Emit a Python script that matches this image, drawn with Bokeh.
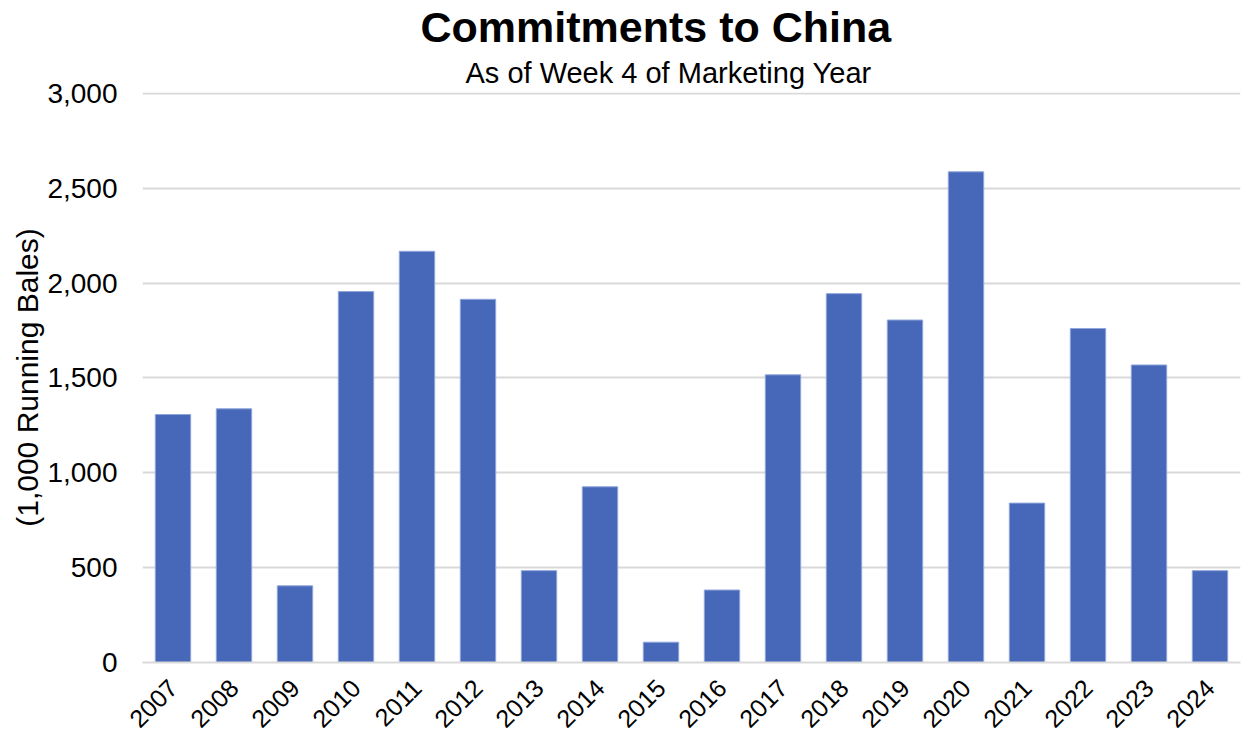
import math
from bokeh.plotting import figure
from bokeh.models import Title, FixedTicker, NumeralTickFormatter, ColumnDataSource, Range1d
from bokeh.embed import file_html
from bokeh.resources import INLINE

years = ["2007", "2008", "2009", "2010", "2011", "2012", "2013", "2014", "2015",
         "2016", "2017", "2018", "2019", "2020", "2021", "2022", "2023", "2024"]
commitments = [1307, 1337, 404, 1955, 2167, 1914, 484, 926, 107,
               382, 1516, 1944, 1805, 2586, 840, 1760, 1568, 484]
y_ticks = [0, 500, 1000, 1500, 2000, 2500, 3000]

title_text = "Commitments to China"
subtitle_text = "As of Week 4 of Marketing Year"
y_label = "(1,000 Running Bales)"

FONT = "Liberation Sans"
BAR = "#4768B8"
GRID = "#D9D9D9"

src = ColumnDataSource(dict(year=years, value=commitments))

p = figure(width=1250, height=740, x_range=years, y_range=Range1d(0, 3004),
           output_backend="svg", toolbar_location=None, title=None,
           min_border_left=142, min_border_right=10, min_border_bottom=78,
           min_border_top=92)

p.vbar(x="year", top="value", width=0.58, source=src,
       fill_color=BAR, line_color="#8FA5DC", line_width=1)

sub = Title(text=subtitle_text, align="left", text_font=FONT,
            text_font_size="29px", text_font_style="normal", text_color="#000000",
            text_line_height=0.85, offset=323, standoff=8)
main = Title(text=title_text, align="left", text_font=FONT,
             text_font_size="43px", text_font_style="bold", text_color="#000000",
             offset=278, standoff=0)
p.add_layout(sub, "above")
p.add_layout(main, "above")

p.outline_line_color = None
p.background_fill_color = "white"
p.border_fill_color = "white"

p.xgrid.grid_line_color = None
p.ygrid.grid_line_color = GRID
p.ygrid.grid_line_width = 2
p.ygrid.ticker = FixedTicker(ticks=y_ticks)

p.yaxis.ticker = FixedTicker(ticks=y_ticks)
p.yaxis.formatter = NumeralTickFormatter(format="0,0")
p.yaxis.axis_line_color = None
p.yaxis.major_tick_line_color = None
p.yaxis.minor_tick_line_color = None
p.yaxis.major_tick_in = 0
p.yaxis.major_tick_out = 0
p.yaxis.major_label_standoff = 25
p.yaxis.major_label_text_font = FONT
p.yaxis.major_label_text_font_size = "28px"
p.yaxis.major_label_text_color = "#000000"
p.yaxis.axis_label = y_label
p.yaxis.axis_label_text_font = FONT
p.yaxis.axis_label_text_font_size = "30px"
p.yaxis.axis_label_text_font_style = "normal"
p.yaxis.axis_label_text_color = "#000000"
p.yaxis.axis_label_standoff = 0

p.xaxis.axis_line_color = GRID
p.xaxis.axis_line_width = 2
p.xaxis.major_tick_line_color = None
p.xaxis.minor_tick_line_color = None
p.xaxis.major_tick_in = 0
p.xaxis.major_tick_out = 0
p.xaxis.major_label_orientation = math.pi / 4
p.xaxis.major_label_standoff = 21
p.xaxis.major_label_text_font = FONT
p.xaxis.major_label_text_font_size = "25px"
p.xaxis.major_label_text_color = "#000000"
p.x_range.range_padding = 0.0

with open("out.html", "w") as f:
    f.write(file_html(p, INLINE))
